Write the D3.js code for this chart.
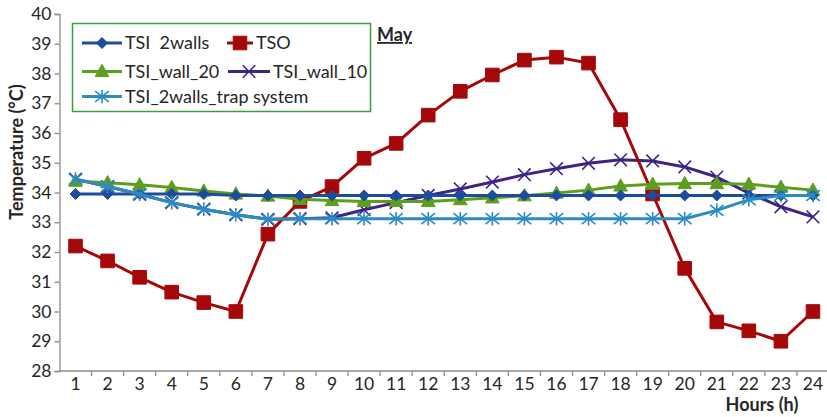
<!DOCTYPE html>
<html>
<head>
<meta charset="utf-8">
<script src="https://cdn.jsdelivr.net/npm/d3@7/dist/d3.min.js"></script>
<style>
  html, body { margin: 0; padding: 0; background: #fff; }
  svg { display: block; font-family: Lato, "Open Sans", sans-serif; }
</style>
</head>
<body>
<svg id="chart" width="827" height="417"></svg>
<script>
// Hourly temperatures for May (°C)
const hours = d3.range(1, 25);
const yTicks = d3.range(28, 41);

const tsi2walls = [33.95, 33.95, 33.95, 33.95, 33.95, 33.9, 33.9, 33.9, 33.9, 33.9, 33.9, 33.9,
                   33.9, 33.9, 33.9, 33.9, 33.9, 33.9, 33.9, 33.9, 33.9, 33.9, 33.9, 33.9];
const tso = [32.2, 31.7, 31.15, 30.65, 30.3, 30.0, 32.6, 33.7, 34.2, 35.15, 35.65, 36.6,
             37.4, 37.95, 38.45, 38.55, 38.35, 36.45, 33.95, 31.45, 29.65, 29.35, 29.0, 30.0];
const tsiWall20 = [34.38, 34.33, 34.26, 34.17, 34.05, 33.95, 33.88, 33.77, 33.73, 33.7, 33.7, 33.7,
                   33.76, 33.82, 33.89, 33.98, 34.08, 34.22, 34.28, 34.3, 34.3, 34.28, 34.18, 34.08];
const tsiWall10 = [34.45, 34.2, 33.94, 33.66, 33.44, 33.25, 33.1, 33.12, 33.15, 33.42, 33.66, 33.9,
                   34.12, 34.35, 34.6, 34.8, 34.98, 35.1, 35.06, 34.86, 34.52, 33.98, 33.52, 33.18];
const tsiTrap = [34.45, 34.2, 33.94, 33.66, 33.44, 33.25, 33.1, 33.12, 33.12, 33.12, 33.12, 33.12,
                 33.12, 33.12, 33.12, 33.12, 33.12, 33.12, 33.12, 33.12, 33.4, 33.76, 33.9, 33.9];

const seriesNames = ["TSI  2walls", "TSO", "TSI_wall_20", "TSI_wall_10", "TSI_2walls_trap system"];

const svg = d3.select("#chart");
const plotLeft = 59.5, plotRight = 829, plotTop = 14, plotBottom = 371;

const x = d3.scaleBand().domain(hours).range([plotLeft, plotRight]).padding(0);
const y = d3.scaleLinear().domain([28, 40]).range([plotBottom, plotTop]);
const cx = h => x(h) + x.bandwidth() / 2;

const axisColor = "#8c8c8c";
const textColor = "#262626";

// Marker path builders (s = half-width in px)
const markers = {
  diamond: s => `M0,${-s}L${s},0L0,${s}L${-s},0Z`,
  square: s => `M${-s},${-s}H${s}V${s}H${-s}Z`,
  triangle: s => `M0,${-s * 1.05}L${s},${s * 0.75}L${-s},${s * 0.75}Z`,
  cross: s => `M${-s},${-s}L${s},${s}M${s},${-s}L${-s},${s}`,
  star: s => `M${-s},${-s * 0.8}L${s},${s * 0.8}M${s},${-s * 0.8}L${-s},${s * 0.8}M0,${-s}V${s}`
};

const series = [
  { name: seriesNames[0], values: tsi2walls, color: "#1c4c9c", marker: "diamond", size: 5.5, filled: true },
  { name: seriesNames[1], values: tso, color: "#a50808", marker: "square", size: 6.8, filled: true },
  { name: seriesNames[2], values: tsiWall20, color: "#5e9e1e", marker: "triangle", size: 6.8, filled: true },
  { name: seriesNames[3], values: tsiWall10, color: "#3f2484", marker: "cross", size: 6.3, filled: false },
  { name: seriesNames[4], values: tsiTrap, color: "#2b8bc3", marker: "star", size: 6.8, filled: false }
];

// Axes
const yAxis = d3.axisLeft(y).tickValues(yTicks).tickSize(5).tickPadding(3).tickFormat(d3.format("d"));
const gy = svg.append("g").attr("transform", `translate(${plotLeft},0)`).call(yAxis);
gy.select(".domain").attr("stroke", axisColor).attr("stroke-width", 1.3);
gy.selectAll(".tick line").attr("stroke", axisColor).attr("stroke-width", 1.3);
gy.selectAll(".tick text").attr("fill", textColor).style("font-size", "17.5px").style("font-family", "Lato, sans-serif");

const xAxis = d3.axisBottom(x).tickSize(0).tickPadding(7);
const gx = svg.append("g").attr("transform", `translate(0,${plotBottom})`).call(xAxis);
gx.select(".domain").remove();
gx.selectAll(".tick text").attr("fill", textColor).style("font-size", "17.5px").style("font-family", "Lato, sans-serif");
gx.append("line").attr("x1", plotLeft).attr("x2", plotRight).attr("y1", 0).attr("y2", 0)
  .attr("stroke", axisColor).attr("stroke-width", 1.3);
gx.selectAll(".sep").data(hours.slice(1)).enter().append("line")
  .attr("x1", d => x(d)).attr("x2", d => x(d)).attr("y1", 0).attr("y2", 5)
  .attr("stroke", axisColor).attr("stroke-width", 1.3);

// Axis titles
svg.append("text")
  .attr("transform", `translate(23,152) rotate(-90)`)
  .attr("text-anchor", "middle")
  .attr("fill", textColor)
  .style("font-size", "18px").style("font-weight", "bold")
  .text("Temperature (°C)");

svg.append("text")
  .attr("x", 762).attr("y", 411)
  .attr("text-anchor", "middle")
  .attr("fill", textColor)
  .style("font-size", "18px").style("font-weight", "bold")
  .text("Hours (h)");

svg.append("text")
  .attr("x", 377).attr("y", 41)
  .attr("fill", textColor)
  .style("font-size", "18px").style("font-weight", "bold")
  .style("text-decoration", "underline")
  .text("May");

// Series lines and markers, back to front
const drawOrder = [3, 1, 2, 0, 4];
const line = d3.line().x((d, i) => cx(hours[i])).y(d => y(d));

function drawMarker(g, s, px, py) {
  g.append("path")
    .attr("transform", `translate(${px},${py})`)
    .attr("d", markers[s.marker](s.size))
    .attr("fill", s.filled ? s.color : "none")
    .attr("stroke", s.color)
    .attr("stroke-width", s.filled ? 1 : 1.6);
}

drawOrder.forEach(k => {
  const s = series[k];
  const g = svg.append("g");
  g.append("path").datum(s.values)
    .attr("d", line)
    .attr("fill", "none")
    .attr("stroke", s.color)
    .attr("stroke-width", 3)
    .attr("stroke-linejoin", "round");
  s.values.forEach((v, i) => drawMarker(g, s, cx(hours[i]), y(v)));
});

// Legend
const lg = svg.append("g");
lg.append("rect").attr("x", 72.5).attr("y", 23.5).attr("width", 298).attr("height", 88)
  .attr("fill", "#fff").attr("stroke", "#3d9b3d").attr("stroke-width", 1.5);

const legendItems = [
  { s: series[0], x1: 82, x2: 122, ty: 43 },
  { s: series[1], x1: 227, x2: 253, ty: 43 },
  { s: series[2], x1: 82, x2: 122, ty: 71.5 },
  { s: series[3], x1: 228, x2: 270, ty: 71.5 },
  { s: series[4], x1: 82, x2: 122, ty: 96.5 }
];
legendItems.forEach(it => {
  const g = lg.append("g");
  g.append("line").attr("x1", it.x1).attr("x2", it.x2).attr("y1", it.ty).attr("y2", it.ty)
    .attr("stroke", it.s.color).attr("stroke-width", 3);
  drawMarker(g, it.s, (it.x1 + it.x2) / 2, it.ty);
  g.append("text")
    .attr("x", it.x2 + 3).attr("y", it.ty).attr("dy", "0.36em")
    .attr("fill", textColor)
    .attr("xml:space", "preserve")
    .style("white-space", "pre")
    .style("font-size", "18px")
    .text(it.s.name);
});
</script>
</body>
</html>
